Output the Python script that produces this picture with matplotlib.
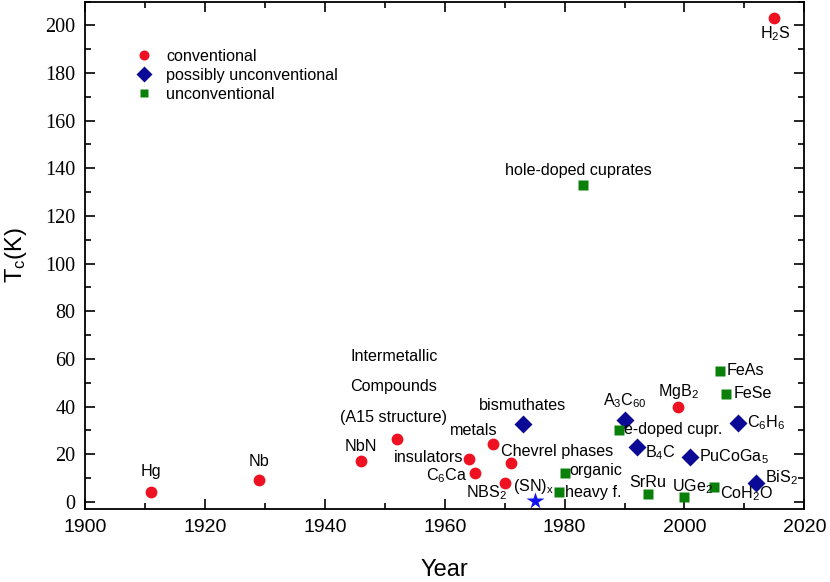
import numpy as np
import matplotlib
matplotlib.use("Agg")
import matplotlib.pyplot as plt
from matplotlib.ticker import MultipleLocator

plt.rcParams['font.family'] = ['Liberation Sans', 'DejaVu Sans']
plt.rcParams['font.serif'] = ['Liberation Serif', 'Nimbus Roman', 'DejaVu Serif']
plt.rcParams['mathtext.fontset'] = 'custom'
plt.rcParams['mathtext.rm'] = 'Liberation Sans'
plt.rcParams['mathtext.it'] = 'Liberation Sans:italic'

# conventional superconductors
conv_names = ['Hg', 'Nb', 'NbN', 'Intermetallic\nCompounds\n(A15 structure)', 'insulators',
              r'C$_6$Ca', 'metals', 'Chevrel phases', r'NBS$_2$', r'MgB$_2$', r'H$_2$S']
conv_year = [1911, 1929, 1946, 1952, 1964, 1965, 1968, 1971, 1970, 1999, 2015]
conv_tc = [4.2, 9.2, 17.2, 26.4, 18.0, 12.2, 24.3, 16.4, 8.0, 40.0, 203.0]

# possibly unconventional
poss_names = ['bismuthates', r'A$_3$C$_{60}$', r'B$_4$C', r'C$_6$H$_6$', r'PuCoGa$_5$', r'BiS$_2$']
poss_year = [1973, 1990, 1992, 2009, 2001, 2012]
poss_tc = [32.7, 34.4, 23.2, 33.3, 19.0, 8.1]

# unconventional
unc_names = ['hole-doped cuprates', 'organic', 'heavy f.', 'e-doped cupr.', 'FeAs', 'FeSe',
             'SrRu', r'UGe$_2$', r'CoH$_2$O']
unc_year = [1983, 1980, 1979, 1989, 2006, 2007, 1994, 2000, 2005]
unc_tc = [133.0, 12.3, 4.1, 30.2, 55.0, 45.3, 3.2, 2.2, 6.2]

# (SN)x polymer
sn_year = [1975]
sn_tc = [0.3]

# label offsets in pixels (dx, dy) and alignment
conv_off = [(0, 20, 'center'), (0, 18, 'center'), (0, 14, 'center'), (-3, 52, 'center'),
            (-5, 1, 'right'), (-8, -3, 'right'), (5, 13, 'right'), (-10, 11, 'left'),
            (2, -10, 'right'), (0, 15, 'center'), (1, -15, 'center')]
poss_off = [(0, 18, 'center'), (0, 19, 'center'), (8, -6, 'left'), (9, 0, 'left'),
            (9, 0, 'left'), (9, 5, 'left')]
unc_off = [(-4, 14, 'center'), (5, 2, 'left'), (6, 0, 'left'), (5, 0, 'left'), (6, 0, 'left'),
           (7, 0, 'left'), (-1, 12, 'center'), (-12, 10, 'left'), (6, -7, 'left')]

red = '#EE1122'
navy = '#0A0A96'
green = '#0A800A'
fs = 11.6

fig = plt.figure(figsize=(8.3, 5.82), dpi=100)
ax = fig.add_axes([0.1028, 0.1254, 0.8662, 0.872])

ax.plot(conv_year, conv_tc, 'o', color=red, ms=8.5, mec='none', label='conventional')
ax.plot(poss_year, poss_tc, 'D', color=navy, ms=9.5, mec='none', label='possibly unconventional')
ax.plot(unc_year, unc_tc, 's', color=green, ms=7, mec='none', label='unconventional')
ax.plot(sn_year, sn_tc, '*', color='#1414F0', ms=13, mec='none')

def put_labels(names, xs, ys, offs):
    for n, x, y, (dx, dy, ha) in zip(names, xs, ys, offs):
        kw = {}
        if '\n' in n:
            kw['linespacing'] = 2.3
        ax.annotate(n, (x, y), xytext=(dx * 0.72, dy * 0.72), textcoords='offset points',
                    ha=ha, va='center', fontsize=fs, **kw)

put_labels(conv_names, conv_year, conv_tc, conv_off)
put_labels(poss_names, poss_year, poss_tc, poss_off)
put_labels(unc_names, unc_year, unc_tc, unc_off)
ax.annotate(r'(SN)$_\mathrm{x}$', (sn_year[0], sn_tc[0]), xytext=(-1 * 0.72, 15 * 0.72),
            textcoords='offset points', ha='center', va='center', fontsize=fs)

ax.set_xlim(1900, 2020)
ax.set_ylim(-3, 210)
ax.xaxis.set_major_locator(MultipleLocator(20))
ax.xaxis.set_minor_locator(MultipleLocator(10))
ax.yaxis.set_major_locator(MultipleLocator(20))
ax.yaxis.set_minor_locator(MultipleLocator(10))
ax.tick_params(which='both', direction='in', top=True, right=True, width=1.2)
ax.tick_params(which='major', length=7.5, labelsize=14)
ax.tick_params(which='minor', length=4)
ax.tick_params(axis='x', pad=7)
ax.tick_params(axis='y', pad=7, labelfontfamily='serif')
for sp in ax.spines.values():
    sp.set_linewidth(1.3)

ax.set_xlabel('Year', fontsize=17, labelpad=17)
ax.set_ylabel(r'T$_\mathrm{c}$(K)', fontsize=17, labelpad=12)

ax.legend(loc='upper left', bbox_to_anchor=(0.05, 0.935), frameon=False, fontsize=fs,
          labelspacing=0.25, handlelength=1.0, handletextpad=0.9, markerscale=0.85)

# y tick labels are in a serif face in the original
fig.canvas.draw()
for t in ax.yaxis.get_major_ticks():
    t.label1.set_fontfamily('serif')
    t.label1.set_fontsize(14.5)

fig.savefig('out.png', dpi=100)
